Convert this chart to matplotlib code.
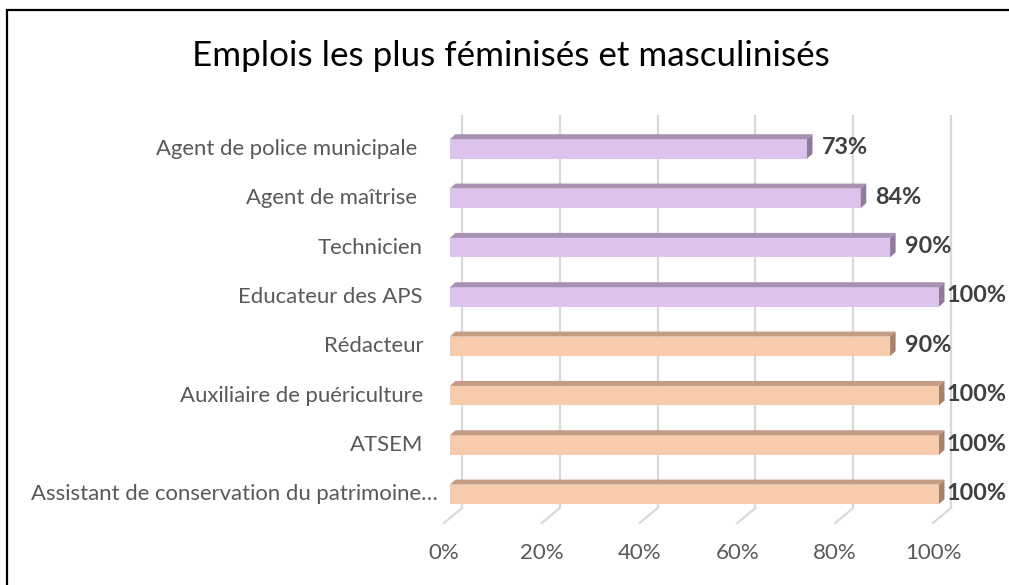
import numpy as np
import matplotlib
matplotlib.use("Agg")
import matplotlib.pyplot as plt
import matplotlib.patches as patches
from matplotlib.transforms import ScaledTranslation

# data (bottom to top)
categories = [
    "Assistant de conservation du patrimoine…",
    "ATSEM",
    "Auxiliaire de puériculture",
    "Rédacteur",
    "Educateur des APS",
    "Technicien",
    "Agent de maîtrise ",
    "Agent de police municipale ",
]
values = [100, 100, 100, 90, 100, 90, 84, 73]
groups = ["fem", "fem", "fem", "fem", "masc", "masc", "masc", "masc"]
xticks = [0, 20, 40, 60, 80, 100]
xtick_labels = ["0%", "20%", "40%", "60%", "80%", "100%"]
title = "Emplois les plus féminisés et masculinisés"

# face / top / side colours per group
colors = {
    "fem": ("#F8CBAD", "#C49C84", "#A8826C"),
    "masc": ("#DCC3EE", "#A892B4", "#8F7C9C"),
}

FONT = ["Lato", "DejaVu Sans"]
W, H = 1009, 585
fig = plt.figure(figsize=(W / 100, H / 100), dpi=100)

# axes placed so that 0..100 spans the bar front faces
ax_left, ax_right = 450, 939
ax_top, ax_bot = 124.3, 519
ax = fig.add_axes([ax_left / W, (H - ax_bot) / H,
                   (ax_right - ax_left) / W, (ax_bot - ax_top) / H])
ax.set_xlim(0, 100)
ax.set_ylim(-0.5, len(categories) - 0.5)
ax.axis("off")

px_x = (ax_right - ax_left) / 100.0        # pixels per x unit
px_y = (ax_bot - ax_top) / len(categories)  # pixels per y unit

# 3D depth offsets
dxb, dyb = 5.5 / px_x, 5.0 / px_y
grid_dx = 12 / px_x
grid_top = (ax_bot - 115) / px_y - 0.5
grid_bot = (ax_bot - 508) / px_y - 0.5
floor_dx = -6 / px_x
floor_y = (ax_bot - 523) / px_y - 0.5

# back wall gridlines + floor ticks
for v in xticks:
    ax.plot([v + grid_dx, v + grid_dx], [grid_bot, grid_top], color="#D9D9D9",
            lw=1.6, zorder=1, clip_on=False, solid_capstyle="butt")
    ax.plot([v + grid_dx, v + floor_dx], [grid_bot, floor_y], color="#D9D9D9",
            lw=1.6, zorder=1, clip_on=False)

bh = 19.5 / px_y
ypos = np.arange(len(categories))
for y, v, g in zip(ypos, values, groups):
    face, top, side = colors[g]
    ax.barh(y, v, height=bh, left=0, color=face, zorder=3, clip_on=False)
    h = bh / 2
    ax.add_patch(patches.Polygon([(0, y + h), (v, y + h), (v + dxb, y + h + dyb), (dxb, y + h + dyb)],
                                 closed=True, facecolor=top, edgecolor="none", zorder=3, clip_on=False))
    ax.add_patch(patches.Polygon([(v, y - h), (v, y + h), (v + dxb, y + h + dyb), (v + dxb, y - h + dyb)],
                                 closed=True, facecolor=side, edgecolor="none", zorder=3, clip_on=False))
    lx = min(v + dxb + 9 / px_x, 100 + dxb + 2 / px_x)
    ax.text(lx, y + 0.02, f"{v}%", ha="left", va="center", fontsize=16.8,
            fontweight="bold", color="#404040", family=FONT, zorder=4, clip_on=False)

# category labels
for y, c in zip(ypos, categories):
    off = 15 if c.endswith("…") else 0
    tr = ax.get_yaxis_transform() + ScaledTranslation((off - 27) / 100, 0, fig.dpi_scale_trans)
    ax.text(0, y, c, transform=tr, ha="right", va="center", fontsize=15.9,
            color="#595959", family=FONT)

# x tick labels (front edge of floor)
for v, lab in zip(xticks, xtick_labels):
    tr = ax.get_xaxis_transform() + ScaledTranslation(-6 / 100, 0, fig.dpi_scale_trans)
    ax.text(v, (ax_bot - 553) / (ax_bot - ax_top), lab, transform=tr, ha="center",
            va="center", fontsize=16, color="#595959", family=FONT)

fig.text(511 / W, 1 - 56 / H, title, ha="center", va="center", fontsize=25.2,
         color="#000000", family=FONT)

# chart border (right and bottom edges fall outside the image)
fig.add_artist(patches.Rectangle((7 / W, -0.05), 1.1, 1.05 - 10 / H,
                                 transform=fig.transFigure, fill=False,
                                 edgecolor="black", lw=1.6))

fig.savefig("out.png", dpi=100)
